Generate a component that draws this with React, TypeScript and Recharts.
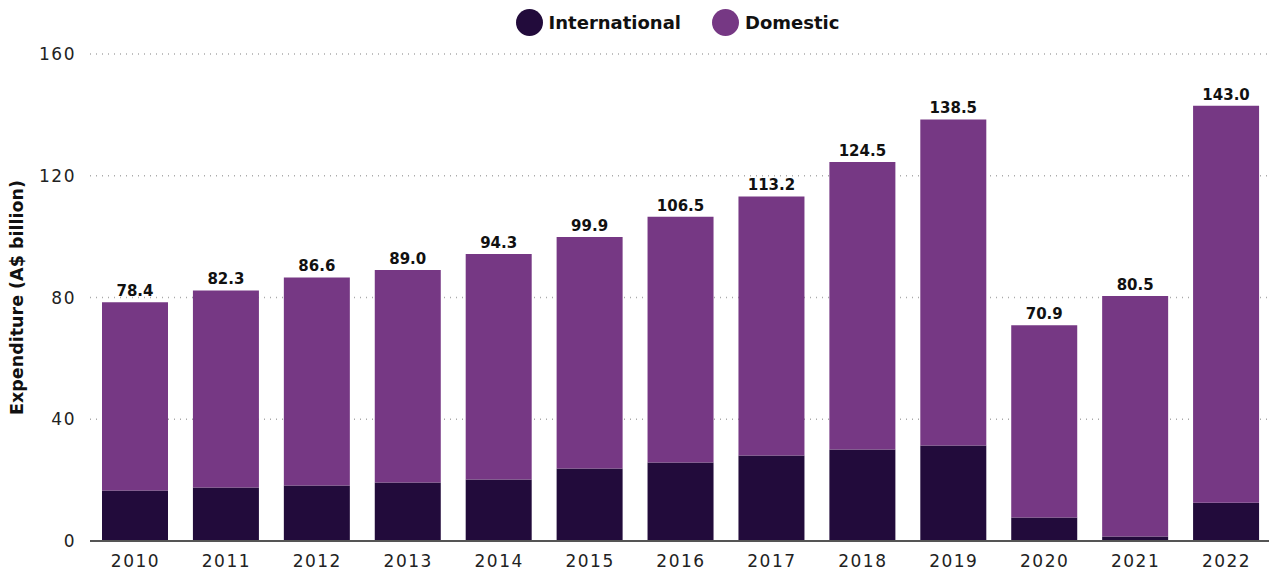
import React from 'react';
import { BarChart, Bar, XAxis, YAxis, CartesianGrid, LabelList, Label } from 'recharts';

const years = ['2010', '2011', '2012', '2013', '2014', '2015', '2016', '2017', '2018', '2019', '2020', '2021', '2022'];
const totals = [78.4, 82.3, 86.6, 89.0, 94.3, 99.9, 106.5, 113.2, 124.5, 138.5, 70.9, 80.5, 143.0];
const international = [16.6, 17.6, 18.2, 19.2, 20.2, 23.8, 25.8, 28.1, 30.1, 31.4, 7.7, 1.5, 12.6];
const yTicks = [0, 40, 80, 120, 160];

const INTL = '#220b3b';
const DOM = '#763884';
const FONT = '"DejaVu Sans", sans-serif';

const data = years.map((year, i) => ({
  year,
  international: international[i],
  domestic: +(totals[i] - international[i]).toFixed(1),
  total: totals[i],
}));

const legendItems = [
  { name: 'International', color: INTL },
  { name: 'Domestic', color: DOM },
];

const Legend = () => (
  <div
    style={{
      position: 'absolute',
      top: 9,
      left: 0,
      width: 1269,
      display: 'flex',
      justifyContent: 'center',
      gap: 31,
      paddingLeft: 86,
      boxSizing: 'border-box',
      fontFamily: FONT,
      fontWeight: 700,
      fontSize: 18,
      color: '#111',
    }}
  >
    {legendItems.map(item => (
      <div key={item.name} style={{ display: 'flex', alignItems: 'center', gap: 6 }}>
        <span style={{ width: 27, height: 27, borderRadius: '50%', background: item.color, display: 'inline-block' }} />
        <span>{item.name}</span>
      </div>
    ))}
  </div>
);

export default function App() {
  return (
    <div style={{ position: 'absolute', left: 0, top: 0, width: 1269, height: 574, background: '#fff' }}>
      <Legend />
      <BarChart
        width={1272}
        height={574}
        data={data}
        margin={{ top: 54, right: 0, left: 0, bottom: 0 }}
        barSize={66}
      >
        <CartesianGrid vertical={false} stroke="#aaa" strokeDasharray="1 5" strokeWidth={1.5} />
        <XAxis
          dataKey="year"
          height={33}
          tickLine={false}
          axisLine={{ stroke: '#555', strokeWidth: 2 }}
          tick={{ fontSize: 17, fill: '#222', fontFamily: FONT, letterSpacing: 1.5 }}
          tickMargin={8}
        />
        <YAxis
          width={90}
          domain={[0, 160]}
          ticks={yTicks}
          axisLine={false}
          tickLine={false}
          tick={{ fontSize: 17, fill: '#222', fontFamily: FONT, letterSpacing: 1.5 }}
          tickMargin={8}
        >
          <Label
            value="Expenditure (A$ billion)"
            angle={-90}
            position="insideLeft"
            offset={17}
            style={{ textAnchor: 'middle', fontSize: 17.5, fontWeight: 700, fill: '#111', fontFamily: FONT }}
          />
        </YAxis>
        <Bar dataKey="international" stackId="a" fill={INTL} isAnimationActive={false} />
        <Bar dataKey="domestic" stackId="a" fill={DOM} isAnimationActive={false}>
          <LabelList
            dataKey="total"
            position="top"
            offset={6}
            formatter={(v: number) => v.toFixed(1)}
            style={{ fontSize: 15, fontWeight: 700, fill: '#111', fontFamily: FONT }}
          />
        </Bar>
      </BarChart>
    </div>
  );
}
